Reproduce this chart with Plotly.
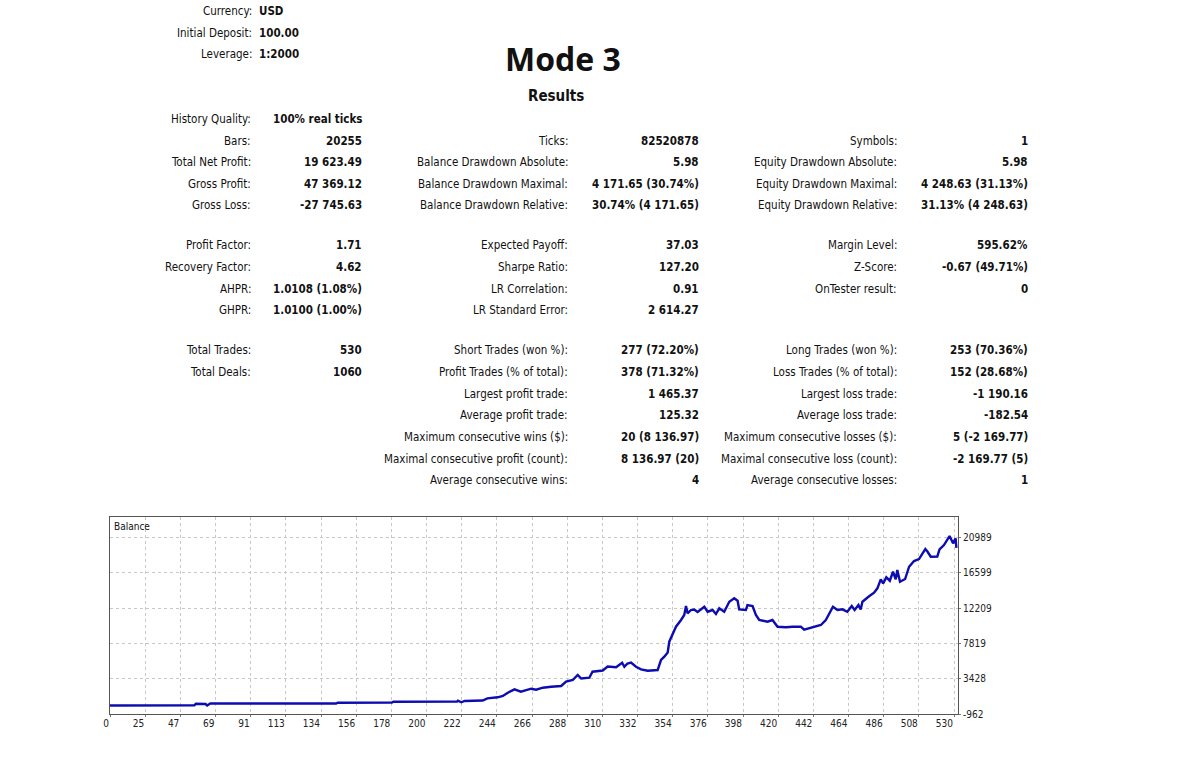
import plotly.graph_objects as go

W, H = 1180, 768

# header block
head_labels = ['Currency:', 'Initial Deposit:', 'Leverage:']
head_values = ['USD', '100.00', '1:2000']

# results table, three columns
col1_labels = ['History Quality:', 'Bars:', 'Total Net Profit:', 'Gross Profit:', 'Gross Loss:',
               'Profit Factor:', 'Recovery Factor:', 'AHPR:', 'GHPR:',
               'Total Trades:', 'Total Deals:']
col1_values = ['100% real ticks', '20255', '19 623.49', '47 369.12', '-27 745.63',
               '1.71', '4.62', '1.0108 (1.08%)', '1.0100 (1.00%)',
               '530', '1060']
col1_rows = [0, 1, 2, 3, 4, 5, 6, 7, 8, 9, 10]

col2_labels = ['Ticks:', 'Balance Drawdown Absolute:', 'Balance Drawdown Maximal:', 'Balance Drawdown Relative:',
               'Expected Payoff:', 'Sharpe Ratio:', 'LR Correlation:', 'LR Standard Error:',
               'Short Trades (won %):', 'Profit Trades (% of total):', 'Largest profit trade:',
               'Average profit trade:', 'Maximum consecutive wins ($):',
               'Maximal consecutive profit (count):', 'Average consecutive wins:']
col2_values = ['82520878', '5.98', '4 171.65 (30.74%)', '30.74% (4 171.65)',
               '37.03', '127.20', '0.91', '2 614.27',
               '277 (72.20%)', '378 (71.32%)', '1 465.37',
               '125.32', '20 (8 136.97)',
               '8 136.97 (20)', '4']
col2_rows = [1, 2, 3, 4, 5, 6, 7, 8, 9, 10, 11, 12, 13, 14, 15]

col3_labels = ['Symbols:', 'Equity Drawdown Absolute:', 'Equity Drawdown Maximal:', 'Equity Drawdown Relative:',
               'Margin Level:', 'Z-Score:', 'OnTester result:',
               'Long Trades (won %):', 'Loss Trades (% of total):', 'Largest loss trade:',
               'Average loss trade:', 'Maximum consecutive losses ($):',
               'Maximal consecutive loss (count):', 'Average consecutive losses:']
col3_values = ['1', '5.98', '4 248.63 (31.13%)', '31.13% (4 248.63)',
               '595.62%', '-0.67 (49.71%)', '0',
               '253 (70.36%)', '152 (28.68%)', '-1 190.16',
               '-182.54', '5 (-2 169.77)',
               '-2 169.77 (5)', '1']
col3_rows = [1, 2, 3, 4, 5, 6, 7, 9, 10, 11, 12, 13, 14, 15]

# balance curve (trade number, balance)
trade_no = [0, 53, 54, 60, 61, 63, 142, 143, 177, 178, 218, 218.5, 220.6, 222.7, 234, 237, 243.5, 246.7,
            249.8, 254, 258, 264.5, 267.6, 271.8, 277, 283.3, 286.4, 290.6, 293.7, 295.9, 301, 303,
            309.4, 312.5, 317.8, 321.6, 323, 325, 327.2, 330.3, 333.5, 337.6, 343.9, 346, 348.1, 350.2,
            351.2, 353.3, 355.4, 358.6, 360.6, 361.7, 362.7, 364.8, 366.9, 369, 370, 373.2, 375.3,
            378.4, 380.5, 382.6, 385.7, 388.9, 392, 394.1, 395.1, 399.3, 400.3, 403.5, 405.6, 407.7,
            412.9, 416, 419.2, 424.4, 428.6, 433.8, 435.9, 441.1, 446.4, 449.5, 452.6, 454, 456.8,
            459.9, 463, 465.8, 467.6, 470, 471.4, 472.5, 476.7, 479.8, 481.9, 484, 485.5, 487.5,
            489.7, 491.7, 493.4, 494.4, 496.1, 499.3, 501.8, 504.9, 508, 512, 513.4, 515.4, 519.5,
            520.9, 523.7, 527.2, 529.4, 531, 531.5]
balance = [100, 130, 320, 280, 100, 345, 350, 445, 470, 570, 594, 694, 495, 657, 720, 990, 1117, 1280,
           1690, 2113, 1815, 2188, 2063, 2312, 2437, 2524, 3060, 3271, 3894, 3458, 3557, 4304,
           4454, 4952, 4852, 5425, 4927, 5325, 5450, 4927, 4603, 4429, 4516, 5761, 6172, 6695,
           8040, 8873, 9907, 10741, 11364, 12484, 11575, 11986, 12048, 11737, 11899, 12397, 11775,
           11986, 11488, 12198, 11775, 13020, 13443, 13144, 12074, 11986, 12609, 12484, 11364, 10741,
           10530, 10741, 9907, 9833, 9907, 9907, 9533, 9833, 10119, 10741, 11775, 12397, 11986,
           12074, 11775, 12484, 11986, 12609, 12048, 13020, 13692, 14140, 14688, 15808, 15310, 16057,
           15634, 16754, 15808, 16966, 15509, 15846, 17377, 18087, 18335, 19580, 19244, 18622, 18647,
           19543, 20079, 21199, 20290, 20912, 19723]

x_ticktext = ['0', '25', '47', '69', '91', '113', '134', '156', '178', '200', '222', '244', '266',
              '288', '310', '332', '354', '376', '398', '420', '442', '464', '486', '508', '530']
y_tickvals = [-962, 3428, 7819, 12209, 16599, 20989]

FONT = 'DejaVu Sans Condensed, Liberation Sans, sans-serif'


def px(x):
    return x / W


def py(y):
    return 1 - y / H


fig = go.Figure()

fig.add_trace(go.Scatter(x=trade_no, y=balance, mode='lines',
                         line=dict(color='#0c0cb0', width=2.4), hoverinfo='skip'))

# last grid line (label 530) sits 4px left of the right frame
n = len(x_ticktext) - 1
x_last = 530
x_tickvals = [x_last * k / n for k in range(n + 1)]
x_max = x_last * 848 / 844

axis_common = dict(showgrid=True, gridcolor='#c8c8c8', griddash='3px,3px', gridwidth=1,
                   showline=True, linecolor='#555555', linewidth=1, mirror=True,
                   ticks='outside', ticklen=2, tickcolor='#777777',
                   tickfont=dict(family=FONT, size=10, color='#222222'),
                   zeroline=False, fixedrange=True, automargin=False)

fig.update_layout(
    width=W, height=H,
    margin=dict(l=0, r=0, t=0, b=0, pad=0),
    paper_bgcolor='white', plot_bgcolor='white',
    showlegend=False,
    xaxis=dict(domain=[px(110), px(958)], range=[0, x_max],
               tickvals=x_tickvals, ticktext=x_ticktext,
               ticklabelposition='outside left', **axis_common),
    yaxis=dict(domain=[py(714), py(517)], range=[-962, 23570], side='right',
               tickvals=y_tickvals, ticktext=[str(v) for v in y_tickvals], **axis_common),
)

ann = []


def text(x, y, s, anchor, bold=False, size=11.5, family=FONT):
    ann.append(dict(xref='paper', yref='paper', x=px(x), y=py(y), text=s,
                    xanchor=anchor, yanchor='middle', showarrow=False,
                    font=dict(family=family, size=size, color='#111111',
                              weight='bold' if bold else 'normal')))


# right-anchored annotations sit ~2px inside their anchor, so anchors are nudged
for i, (lab, val) in enumerate(zip(head_labels, head_values)):
    y = 11 + i * 21.5
    text(254, y, lab, 'right')
    text(257, y, val, 'left', bold=True)

row_y = [119, 141, 162, 184, 205, 245, 267, 289, 310, 350, 372, 394, 415, 437, 459, 480]

for labs, vals, rows, lx, vx in [(col1_labels, col1_values, col1_rows, 253, 364),
                                 (col2_labels, col2_values, col2_rows, 570, 701),
                                 (col3_labels, col3_values, col3_rows, 899, 1030)]:
    for lab, val, r in zip(labs, vals, rows):
        text(lx, row_y[r], lab, 'right')
        text(vx, row_y[r], val, 'right', bold=True)

text(563, 59, 'Mode 3', 'center', bold=True, size=32, family='Open Sans')
text(556, 96, 'Results', 'center', bold=True, size=15)
text(112, 526, 'Balance', 'left', size=10)

fig.update_layout(annotations=ann)

page_css = ("document.body.style.margin='0';"
            "document.body.style.overflow='hidden';"
            "document.documentElement.style.overflow='hidden';")

fig.write_html("out.html", config={'displayModeBar': False}, post_script=page_css)
